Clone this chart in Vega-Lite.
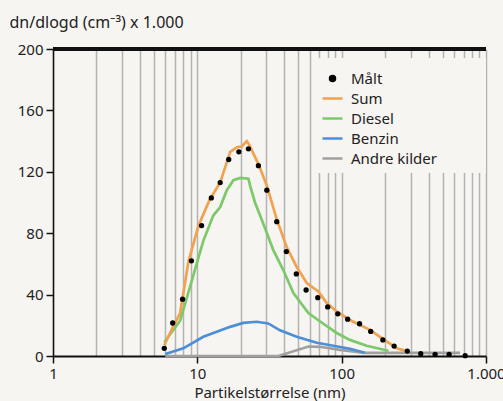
{
  "$schema": "https://vega.github.io/schema/vega-lite/v6.json",
  "autosize": "none",
  "width": 433,
  "height": 307,
  "padding": {"left": 53, "top": 49, "right": 17, "bottom": 45},
  "background": "#f7f5f1",
  "config": {
    "view": {"stroke": null},
    "font": "Noto Sans",
    "axis": {"labelFont": "Noto Sans", "titleFont": "Noto Sans", "labelColor": "#222", "titleColor": "#222", "titleFontWeight": "normal"}
  },
  "data": {"values": [
    {"series": "Målt", "d": 5.9, "v": 5},
    {"series": "Målt", "d": 6.75, "v": 21.5},
    {"series": "Målt", "d": 7.9, "v": 37},
    {"series": "Målt", "d": 9.1, "v": 62},
    {"series": "Målt", "d": 10.7, "v": 85},
    {"series": "Målt", "d": 12.5, "v": 103},
    {"series": "Målt", "d": 14.4, "v": 113},
    {"series": "Målt", "d": 16.5, "v": 128},
    {"series": "Målt", "d": 19.4, "v": 133},
    {"series": "Målt", "d": 22.6, "v": 135},
    {"series": "Målt", "d": 26.5, "v": 124},
    {"series": "Målt", "d": 30.3, "v": 108},
    {"series": "Målt", "d": 35.5, "v": 87.5},
    {"series": "Målt", "d": 41.4, "v": 68},
    {"series": "Målt", "d": 48.5, "v": 53.5},
    {"series": "Målt", "d": 56.7, "v": 43},
    {"series": "Målt", "d": 68.3, "v": 38},
    {"series": "Målt", "d": 80, "v": 32},
    {"series": "Målt", "d": 94, "v": 27.5},
    {"series": "Målt", "d": 110, "v": 24},
    {"series": "Målt", "d": 133, "v": 21},
    {"series": "Målt", "d": 159, "v": 16},
    {"series": "Målt", "d": 193, "v": 10.5},
    {"series": "Målt", "d": 231, "v": 6.5},
    {"series": "Målt", "d": 285, "v": 3.2},
    {"series": "Målt", "d": 353, "v": 1.5},
    {"series": "Målt", "d": 444, "v": 1.1},
    {"series": "Målt", "d": 555, "v": 1.1},
    {"series": "Målt", "d": 717, "v": 0.2},

    {"series": "Andre kilder", "d": 6, "v": 0},
    {"series": "Andre kilder", "d": 36.5, "v": 0},
    {"series": "Andre kilder", "d": 58.8, "v": 6.2},
    {"series": "Andre kilder", "d": 70.6, "v": 6},
    {"series": "Andre kilder", "d": 97.5, "v": 4},
    {"series": "Andre kilder", "d": 145, "v": 2.1},
    {"series": "Andre kilder", "d": 661, "v": 2.1},

    {"series": "Benzin", "d": 6, "v": 1.3},
    {"series": "Benzin", "d": 8, "v": 5},
    {"series": "Benzin", "d": 11, "v": 12.5},
    {"series": "Benzin", "d": 16.9, "v": 19},
    {"series": "Benzin", "d": 20.8, "v": 21.6},
    {"series": "Benzin", "d": 25.8, "v": 22.3},
    {"series": "Benzin", "d": 31, "v": 21.2},
    {"series": "Benzin", "d": 37.4, "v": 16.7},
    {"series": "Benzin", "d": 48.8, "v": 12.5},
    {"series": "Benzin", "d": 67.2, "v": 8.6},
    {"series": "Benzin", "d": 87.5, "v": 6.7},
    {"series": "Benzin", "d": 114, "v": 4.7},
    {"series": "Benzin", "d": 145, "v": 2.1},

    {"series": "Diesel", "d": 5.9, "v": 9},
    {"series": "Diesel", "d": 7.6, "v": 23},
    {"series": "Diesel", "d": 8.9, "v": 45},
    {"series": "Diesel", "d": 11, "v": 75},
    {"series": "Diesel", "d": 12.9, "v": 91.5},
    {"series": "Diesel", "d": 14.4, "v": 97},
    {"series": "Diesel", "d": 16, "v": 108},
    {"series": "Diesel", "d": 17.8, "v": 114.5},
    {"series": "Diesel", "d": 19.8, "v": 116},
    {"series": "Diesel", "d": 22.6, "v": 115.5},
    {"series": "Diesel", "d": 23.2, "v": 111},
    {"series": "Diesel", "d": 25.1, "v": 100},
    {"series": "Diesel", "d": 28.7, "v": 86},
    {"series": "Diesel", "d": 33.6, "v": 69},
    {"series": "Diesel", "d": 39.4, "v": 56},
    {"series": "Diesel", "d": 46.3, "v": 41},
    {"series": "Diesel", "d": 58.8, "v": 28},
    {"series": "Diesel", "d": 74.7, "v": 21},
    {"series": "Diesel", "d": 92.4, "v": 15},
    {"series": "Diesel", "d": 114, "v": 10.5},
    {"series": "Diesel", "d": 149, "v": 6.7},
    {"series": "Diesel", "d": 211, "v": 3.4},

    {"series": "Sum", "d": 5.9, "v": 7},
    {"series": "Sum", "d": 6.7, "v": 18},
    {"series": "Sum", "d": 7.6, "v": 28},
    {"series": "Sum", "d": 8.7, "v": 62},
    {"series": "Sum", "d": 10.2, "v": 85},
    {"series": "Sum", "d": 12.2, "v": 102},
    {"series": "Sum", "d": 14.4, "v": 113},
    {"series": "Sum", "d": 16.9, "v": 133},
    {"series": "Sum", "d": 18.8, "v": 136},
    {"series": "Sum", "d": 20.3, "v": 136.5},
    {"series": "Sum", "d": 22, "v": 140},
    {"series": "Sum", "d": 22.9, "v": 137.5},
    {"series": "Sum", "d": 26.5, "v": 125},
    {"series": "Sum", "d": 30.3, "v": 111},
    {"series": "Sum", "d": 35.5, "v": 89},
    {"series": "Sum", "d": 41.6, "v": 71},
    {"series": "Sum", "d": 48.8, "v": 58},
    {"series": "Sum", "d": 57.3, "v": 47.5},
    {"series": "Sum", "d": 69, "v": 42},
    {"series": "Sum", "d": 78.8, "v": 34.5},
    {"series": "Sum", "d": 92.4, "v": 29},
    {"series": "Sum", "d": 114, "v": 23.4},
    {"series": "Sum", "d": 157, "v": 17},
    {"series": "Sum", "d": 194, "v": 11},
    {"series": "Sum", "d": 241, "v": 5},
    {"series": "Sum", "d": 285, "v": 3}
  ]},
  "encoding": {
    "x": {
      "field": "d", "type": "quantitative",
      "scale": {"type": "log", "domain": [1, 1000], "nice": false},
      "axis": {
        "title": "Partikelstørrelse (nm)",
        "titleFontSize": 15,
        "titlePadding": 4,
        "values": [1,2,3,4,5,6,7,8,9,10,20,30,40,50,60,70,80,90,100,200,300,400,500,600,700,800,900,1000],
        "labelExpr": "datum.value == 1 ? '1' : datum.value == 10 ? '10' : datum.value == 100 ? '100' : datum.value == 1000 ? '1.000' : ''",
        "labelFontSize": 15,
        "labelPadding": 3,
        "labelFlush": false,
        "labelOverlap": false,
        "grid": true,
        "gridColor": "#b3b3b3",
        "gridWidth": 1.5,
        "domainColor": "#111",
        "domainWidth": 2,
        "tickColor": "#111",
        "tickWidth": 1.5,
        "tickSize": 7,
        "tickOpacity": {"condition": {"test": "datum.value == 1 || datum.value == 10 || datum.value == 100 || datum.value == 1000", "value": 1}, "value": 0}
      }
    },
    "y": {
      "field": "v", "type": "quantitative",
      "scale": {"domain": [0, 200], "nice": false},
      "axis": {
        "title": "dn/dlogd (cm⁻³) x 1.000",
        "titleAngle": 0,
        "titleAlign": "left",
        "titleBaseline": "alphabetic",
        "titleX": -44,
        "titleY": -22,
        "titleFontSize": 16,
        "values": [0, 40, 80, 120, 160, 200],
        "labelFontSize": 15,
        "labelPadding": 3,
        "grid": false,
        "domainColor": "#111",
        "domainWidth": 1.5,
        "tickColor": "#111",
        "tickWidth": 1.5,
        "tickSize": 7
      }
    }
  },
  "layer": [
    {
      "mark": {"type": "rect", "color": "#f7f5f1", "opacity": 1},
      "encoding": {"x": {"datum": 62.5}, "x2": {"datum": 1000}, "y": {"datum": 119.5}, "y2": {"datum": 194}}
    },
    {
      "mark": {"type": "rule", "color": "#111", "strokeWidth": 2.5},
      "encoding": {"y": {"datum": 200}, "x": null}
    },
    {
      "transform": [{"filter": "datum.series != 'Målt'"}],
      "mark": {"type": "line", "strokeWidth": 2.7, "interpolate": "linear"},
      "encoding": {
        "color": {
          "field": "series", "type": "nominal",
          "scale": {"domain": ["Målt", "Sum", "Diesel", "Benzin", "Andre kilder"], "range": ["#000000", "#f0a24f", "#7cc96a", "#4d8fd6", "#a0a0a0"]},
          "legend": {
            "title": null,
            "orient": "none",
            "legendX": 259,
            "legendY": 9,
            "padding": 9,
            "labelFontSize": 15,
            "labelFont": "Noto Sans",
            "labelColor": "#222",
            "labelOffset": 7,
            "symbolSize": 400,
            "rowPadding": 0,
            "labelLimit": 300,
            "encode": {
              "symbols": {
                "update": {
                  "shape": {"signal": "datum.value === 'Målt' ? 'circle' : 'stroke'"},
                  "size": {"signal": "datum.value === 'Målt' ? 25 : 400"},
                  "fill": {"signal": "datum.value === 'Målt' ? '#000000' : 'transparent'"},
                  "stroke": {"signal": "datum.value === 'Målt' ? 'transparent' : scale('color', datum.value)"},
                  "strokeWidth": {"value": 2.5},
                  "opacity": {"value": 1}
                }
              }
            }
          }
        },
        "order": {"field": "d", "type": "quantitative"}
      }
    },
    {
      "transform": [{"filter": "datum.series == 'Målt'"}],
      "mark": {"type": "point", "filled": true, "size": 28, "opacity": 1},
      "encoding": {
        "color": {"field": "series", "type": "nominal"}
      }
    }
  ]
}
